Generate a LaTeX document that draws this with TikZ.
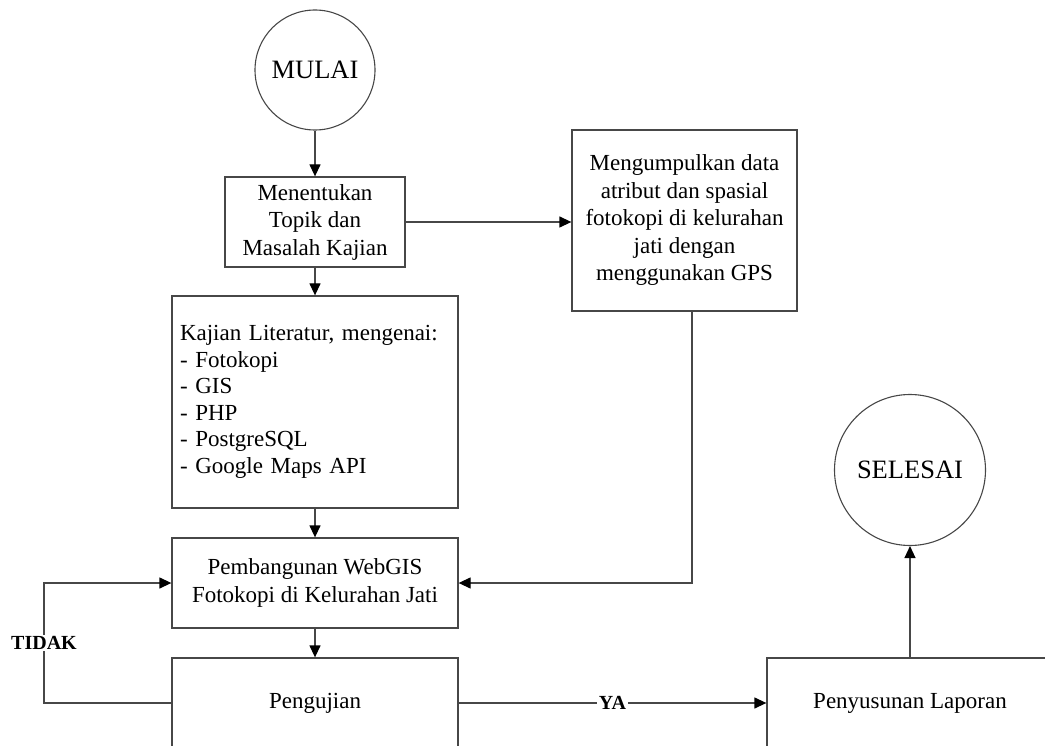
\documentclass[tikz,border=0pt]{standalone}
\usepackage{fontspec}
\setmainfont{Liberation Serif}
\usetikzlibrary{arrows.meta,calc}
\begin{document}
\begin{tikzpicture}[x=1pt,y=-1pt,
  every node/.style={font=\fontsize{23}{27.5}\selectfont, text=black},
  box/.style={draw=black!72, line width=1.3pt, rectangle, align=center, inner sep=4pt},
  term/.style={draw=black!72, line width=1.1pt, circle, inner sep=0pt, minimum size=#1, font=\fontsize{26.5}{30}\selectfont},
  conn/.style={draw=black!72, line width=1.3pt},
  arr/.style={conn, -{Triangle[length=12pt,width=11pt,fill=black,color=black]}},
  lbl/.style={fill=white, inner sep=1.5pt, font=\fontsize{20}{24}\selectfont\bfseries}
]
\useasboundingbox (0,0) rectangle (1045,746);
\clip (0,0) rectangle (1045,746);

\node[term=120pt] (mulai) at (315,70) {MULAI};
\node[box, minimum width=180pt, minimum height=90pt] (topik) at (315,222) {Menentukan\\Topik dan\\Masalah Kajian};
\node[box, text width=270pt, inner sep=8pt, align=left, minimum height=212pt, font=\fontsize{23}{26.5}\selectfont] (kajian) at (315,402)
  {Kajian Literatur, mengenai:\\- Fotokopi\\- GIS\\- PHP\\- PostgreSQL\\- Google Maps API};
\node[box, minimum width=225pt, minimum height=181pt] (data) at (684.5,220.5)
  {Mengumpulkan data\\atribut dan spasial\\fotokopi di kelurahan\\jati dengan\\menggunakan GPS};
\node[box, minimum width=286pt, minimum height=90pt] (bangun) at (315,583) {Pembangunan WebGIS\\Fotokopi di Kelurahan Jati};
\node[box, minimum width=286pt, minimum height=90pt] (uji) at (315,703) {Pengujian};
\node[box, minimum width=286pt, minimum height=90pt] (lapor) at (910,703) {Penyusunan Laporan};
\node[term=151pt] (selesai) at (910,470) {SELESAI};

\coordinate (tl) at (44,703);
\coordinate (dd) at (692,311);

\draw[arr] (mulai) -- (topik);
\draw[arr] (topik) -- (kajian);
\draw[arr] (kajian) -- (bangun);
\draw[arr] (bangun) -- (uji);
\draw[arr] (topik.east) -- (topik.east -| data.west);
\draw[arr] (dd) |- (bangun.east);
\draw[arr] (uji.west) -- (tl) -- node[lbl] {TIDAK} (tl |- bangun.west) -- (bangun.west);
\draw[arr] (uji.east) -- node[lbl] {YA} (lapor.west);
\draw[arr] (lapor.north) -- (selesai.south);
\end{tikzpicture}
\end{document}
